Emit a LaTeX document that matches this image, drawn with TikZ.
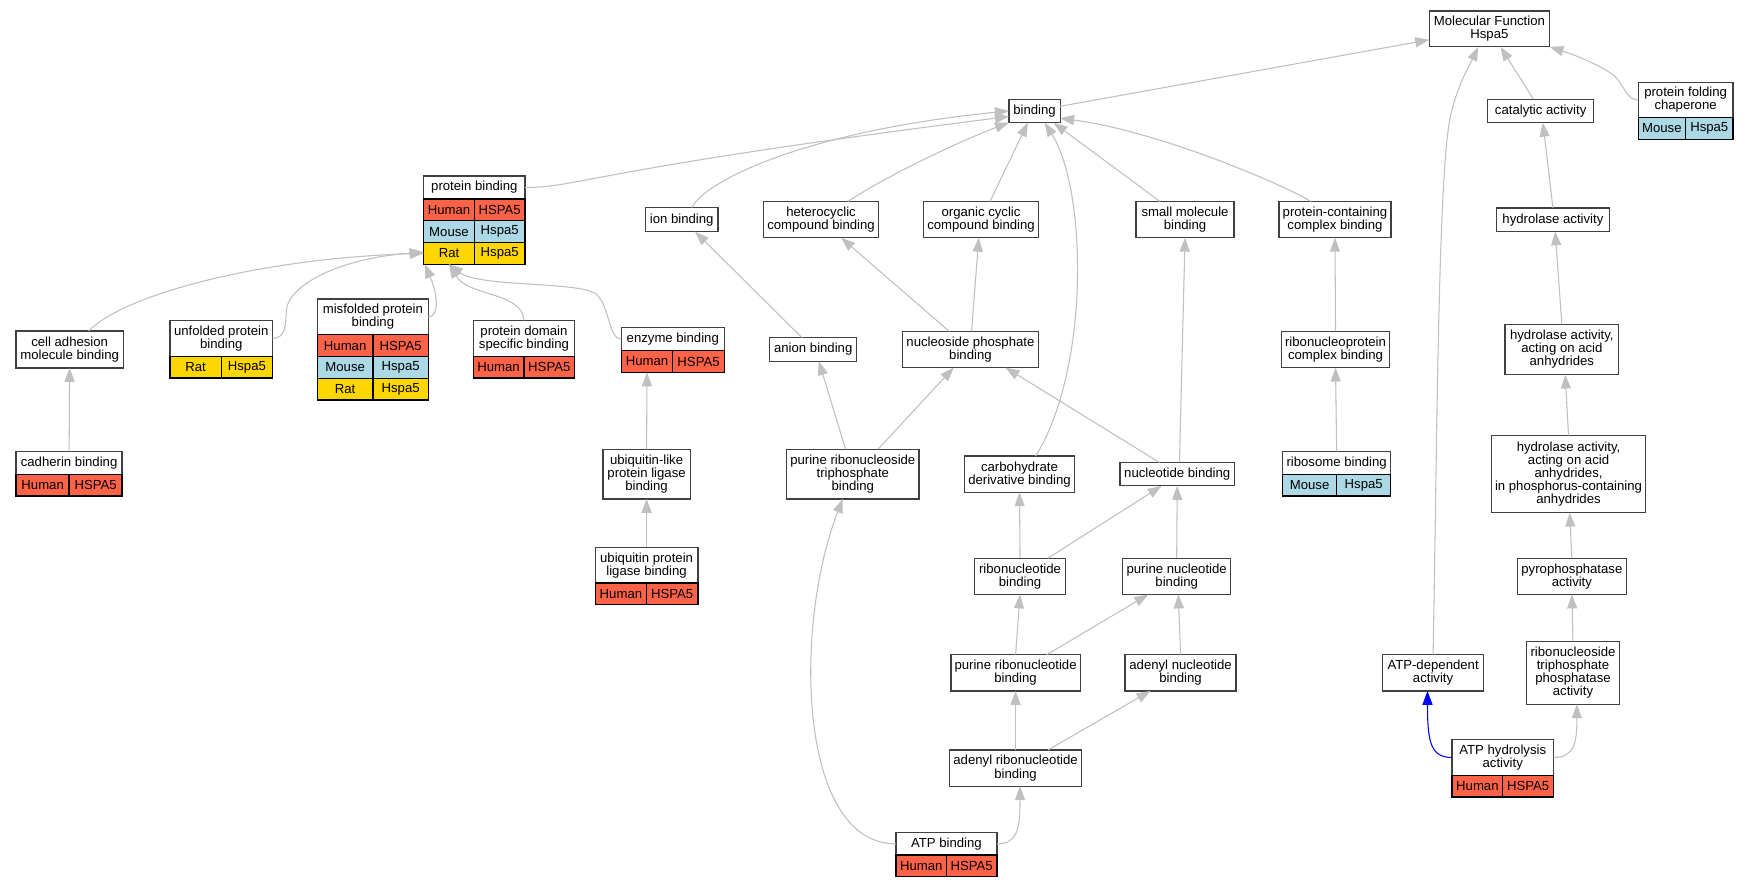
\documentclass[tikz,border=0pt]{standalone}
\usepackage{fontspec}
\setmainfont{Liberation Sans}
\usetikzlibrary{arrows.meta,calc}
\definecolor{humanred}{HTML}{FF6347}
\definecolor{mouseblue}{HTML}{ADD8E6}
\definecolor{ratgold}{HTML}{FFD700}
\definecolor{edgegray}{HTML}{C0C0C0}
\definecolor{boxline}{HTML}{404040}
\newcommand{\gofont}{\fontsize{11.8}{11.7}\selectfont}
\tikzset{%
    term/.style={%
        draw=boxline, line width=1.2pt, fill=white, align=center,
        inner sep=1pt, outer sep=0pt, font=\gofont
    },
    sz/.style 2 args={minimum width=#1, minimum height=#2},
    orgcell/.style={%
        draw=black, line width=1.2pt, inner sep=0pt, outer sep=0pt,
        minimum height=19.5, font=\gofont
    },
    isa/.style={%
        draw=edgegray, line width=0.95pt, -{Triangle[length=12.5pt, width=9pt]}
    }
}
% one species row under a term: at, name, colour, species, gene, half width
\newcommand{\orgrow}[6]{%
    \node[orgcell, fill=#3, minimum width=#6, anchor=north east] (#2s) at (#1) {#4};
    \node[orgcell, fill=#3, minimum width=#6, anchor=north west] (#2g) at (#1) {#5};
}

\begin{document}
\begin{tikzpicture}[x=1pt, y=-1pt]
    \useasboundingbox[fill=white] (0,0) rectangle (1568,796.5);
    % rank 0 and 1
    \node[term, sz={108}{32}] (MF) at (1336,26) {Molecular Function\\Hspa5};
    \node[term, sz={46}{21}] (binding) at (928,99.5) {binding};
    \node[term, sz={95}{21}] (catalytic) at (1382,99.5) {catalytic activity};
    \node[term, sz={85}{31.5}, anchor=north] (pfc) at (1512,74) {protein folding\\chaperone};
    \orgrow{pfc.south}{pfcA}{mouseblue}{Mouse}{Hspa5}{42.5}
    % rank 2
    \node[term, sz={91}{20.5}, anchor=north] (pb) at (425.5,158) {protein binding};
    \orgrow{pb.south}{pbA}{humanred}{Human}{HSPA5}{45.5}
    \orgrow{pbAs.south east}{pbB}{mouseblue}{Mouse}{Hspa5}{45.5}
    \orgrow{pbBs.south east}{pbC}{ratgold}{Rat}{Hspa5}{45.5}
    \node[term, sz={65}{21.5}] (ion) at (611.5,197) {ion binding};
    \node[term, sz={103}{32.5}] (hetero) at (736.5,197) {heterocyclic\\compound binding};
    \node[term, sz={103}{32.5}] (organic) at (880,197) {organic cyclic\\compound binding};
    \node[term, sz={88}{32.5}] (small) at (1063,197) {small molecule\\binding};
    \node[term, sz={100.5}{32.5}] (pcc) at (1197.5,197) {protein-containing\\complex binding};
    \node[term, sz={101}{21}] (hydro) at (1393,197) {hydrolase activity};
    % rank 3
    \node[term, sz={96}{33}] (cam) at (62.5,313.5) {cell adhesion\\molecule binding};
    \node[term, sz={92}{32}, anchor=north] (upb) at (198.5,287.5) {unfolded protein\\binding};
    \orgrow{upb.south}{upbA}{ratgold}{Rat}{Hspa5}{46}
    \node[term, sz={99.5}{32}, anchor=north] (mpb) at (334.5,268.25) {misfolded protein\\binding};
    \orgrow{mpb.south}{mpbA}{humanred}{Human}{HSPA5}{49.75}
    \orgrow{mpbAs.south east}{mpbB}{mouseblue}{Mouse}{Hspa5}{49.75}
    \orgrow{mpbBs.south east}{mpbC}{ratgold}{Rat}{Hspa5}{49.75}
    \node[term, sz={91}{32}, anchor=north] (pds) at (470,287.5) {protein domain\\specific binding};
    \orgrow{pds.south}{pdsA}{humanred}{Human}{HSPA5}{45.5}
    \node[term, sz={92.5}{20.5}, anchor=north] (enz) at (603.5,294) {enzyme binding};
    \orgrow{enz.south}{enzA}{humanred}{Human}{HSPA5}{46.25}
    \node[term, sz={78}{21}] (anion) at (729.5,313.5) {anion binding};
    \node[term, sz={122}{32.5}] (nsp) at (870.5,313.5) {nucleoside phosphate\\binding};
    \node[term, sz={97}{32.5}] (rnp) at (1198,313.5) {ribonucleoprotein\\complex binding};
    \node[term, sz={102}{45}] (haa) at (1401,313.5) {hydrolase activity,\\acting on acid\\anhydrides};
    % rank 4
    \node[term, sz={95}{20.5}, anchor=north] (cad) at (62,405) {cadherin binding};
    \orgrow{cad.south}{cadA}{humanred}{Human}{HSPA5}{47.5}
    \node[term, sz={78.5}{44.5}] (ubl) at (580,425.3) {ubiquitin-like\\protein ligase\\binding};
    \node[term, sz={118.5}{44.5}] (prtb) at (765,425.3) {purine ribonucleoside\\triphosphate\\binding};
    \node[term, sz={99}{32.5}] (cdb) at (914.5,425.3) {carbohydrate\\derivative binding};
    \node[term, sz={102.5}{21}] (nb) at (1056,425.3) {nucleotide binding};
    \node[term, sz={97}{20.5}, anchor=north] (rib) at (1199,405) {ribosome binding};
    \orgrow{rib.south}{ribA}{mouseblue}{Mouse}{Hspa5}{48.5}
    \node[term, sz={138}{69}] (hpa) at (1407,425.3) {hydrolase activity,\\acting on acid\\anhydrides,\\in phosphorus-containing\\anhydrides};
    % rank 5
    \node[term, sz={92}{32}, anchor=north] (uplb) at (580,491) {ubiquitin protein\\ligase binding};
    \orgrow{uplb.south}{uplbA}{humanred}{Human}{HSPA5}{46}
    \node[term, sz={82}{32.5}] (rnb) at (915,517) {ribonucleotide\\binding};
    \node[term, sz={97}{32.5}] (pnb) at (1055.5,517) {purine nucleotide\\binding};
    \node[term, sz={98}{32.5}] (pyro) at (1410,517) {pyrophosphatase\\activity};
    % rank 6
    \node[term, sz={116}{32.5}] (prnb) at (911,603.5) {purine ribonucleotide\\binding};
    \node[term, sz={99.5}{32.5}] (anb) at (1059,603.5) {adenyl nucleotide\\binding};
    \node[term, sz={91}{32.5}] (atpdep) at (1285.5,603.5) {ATP-dependent\\activity};
    \node[term, sz={84}{56.5}] (rtpa) at (1411,603.5) {ribonucleoside\\triphosphate\\phosphatase\\activity};
    % rank 7 and 8
    \node[term, sz={118.5}{32.5}] (arnb) at (911,689) {adenyl ribonucleotide\\binding};
    \node[term, sz={91}{32}, anchor=north] (atphyd) at (1348,663.5) {ATP hydrolysis\\activity};
    \orgrow{atphyd.south}{atphydA}{humanred}{Human}{HSPA5}{45.5}
    \node[term, sz={90.5}{20}, anchor=north] (atpb) at (849,747) {ATP binding};
    \orgrow{atpb.south}{atpbA}{humanred}{Human}{HSPA5}{45.25}

    % is_a edges, child to parent
    \draw[isa] (binding) -- (MF);
    \draw[isa] (catalytic) -- (MF);
    \draw[isa] (pfc.west) .. controls (1460,89.75) and (1457,78) .. (1450,70)
        .. controls (1443,62) and (1415,50) .. (MF.south east);
    \draw[isa] (atpdep.north) .. controls (1289,400) and (1290,170) .. (1300,110)
        .. controls (1305,80) and (1320,55) .. ($(MF.south)+(-10,0)$);
    \draw[isa] (pb.east) .. controls (520,168) and (530,152) .. ($(binding.west)+(0,5)$);
    \draw[isa] ($(ion.north)+(9,0)$) .. controls (632,163) and (720,118) .. (binding.west);
    \draw[isa] ($(hetero.north)+(24,0)$) .. controls (800,155) and (865,125) .. (binding.south west);
    \draw[isa] ($(organic.north)+(8,0)$) -- ($(binding.south)+(-6,0)$);
    \draw[isa] ($(small.north)+(-22.5,0)$) -- ($(binding.south east)+(-6,0)$);
    \draw[isa] ($(pcc.north)+(-21.5,0)$) .. controls (1150,165) and (1040,118) .. ($(binding.south east)+(0,-4)$);
    \draw[isa] ($(cdb.north)+(14.5,0)$) .. controls (978,330) and (975,170) .. ($(binding.south)+(9,0)$);
    \draw[isa] (hydro.north) -- ($(catalytic.south)+(2,0)$);
    \draw[isa] ($(cam.north)+(17,0)$) .. controls (110,265) and (230,232) .. (pbCs.west);
    \draw[isa] (upb.east) .. controls (257,303.5) and (256,290) .. (257,278)
        .. controls (258,258) and (300,232) .. ($(pbCs.west)+(0,-1)$);
    \draw[isa] (mpb.east) .. controls (394,284.25) and (393,265) .. ($(pbCs.south west)+(1,0)$);
    \draw[isa] (pds.north) .. controls (469,262) and (420,266) .. (pbCs.south);
    \draw[isa] (enz.west) .. controls (546,304) and (547,275) .. (535,264)
        .. controls (520,252) and (430,258) .. (pbCs.south);
    \draw[isa] ($(anion.north)+(-10,0)$) -- ($(ion.south)+(12,0)$);
    \draw[isa] ($(nsp.north)+(-19,0)$) -- ($(hetero.south)+(18,0)$);
    \draw[isa] ($(nsp.north)+(1,0)$) -- ($(organic.south)+(-2,0)$);
    \draw[isa] (rnp.north) -- (pcc.south);
    \draw[isa] (haa.north) -- ($(hydro.south)+(2,0)$);
    \draw[isa] (cad.north) -- (cam.south);
    \draw[isa] (ubl.north) -- (enzAs.south);
    \draw[isa] ($(prtb.north)+(-6.5,0)$) -- ($(anion.south)+(5,0)$);
    \draw[isa] ($(prtb.north)+(22.5,0)$) -- ($(nsp.south)+(-15,0)$);
    \draw[isa] ($(nb.north)+(-16,0)$) -- ($(nsp.south)+(31.5,0)$);
    \draw[isa] ($(nb.north)+(2,0)$) -- (small.south);
    \draw[isa] (rib.north) -- (rnp.south);
    \draw[isa] (hpa.north) -- ($(haa.south)+(3,0)$);
    \draw[isa] (uplb.north) -- (ubl.south);
    \draw[isa] (rnb.north) -- (cdb.south);
    \draw[isa] ($(rnb.north)+(25,0)$) -- ($(nb.south)+(-14,0)$);
    \draw[isa] (pnb.north) -- (nb.south);
    \draw[isa] (pyro.north) -- ($(hpa.south)+(1,0)$);
    \draw[isa] (prnb.north) -- (rnb.south);
    \draw[isa] ($(prnb.north)+(28,0)$) -- ($(pnb.south)+(-25.5,0)$);
    \draw[isa] (anb.north) -- ($(pnb.south)+(1.5,0)$);
    \draw[isa] (rtpa.north) -- (pyro.south);
    \draw[isa] (arnb.north) -- (prnb.south);
    \draw[isa] ($(arnb.north)+(29,0)$) -- ($(anb.south)+(-27,0)$);
    \draw[isa] (atphyd.east) .. controls (1413,679.5) and (1414.5,665) .. ($(rtpa.south)+(3.5,0)$);
    \draw[isa, draw=blue] (atphyd.west) .. controls (1283,679.5) and (1280.5,665) .. ($(atpdep.south)+(-5,0)$);
    \draw[isa] (atpb.west) .. controls (715,757) and (712,560) .. ($(prtb.south)+(-9,0)$);
    \draw[isa] (atpb.east) .. controls (912,757) and (915,745) .. ($(arnb.south)+(4,0)$);
\end{tikzpicture}
\end{document}
